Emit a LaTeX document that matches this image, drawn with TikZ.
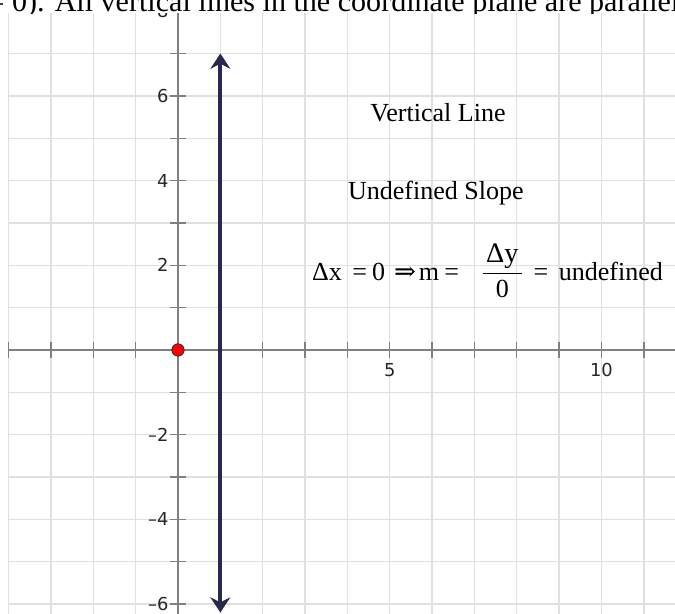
\documentclass[tikz,border=0pt]{standalone}
\usepackage{fontspec}
\setmainfont{Liberation Serif}
\newfontfamily\ticksfont{DejaVu Sans}
\newfontfamily\arrowfont{DejaVu Serif}
\usepackage{amsmath}
\usepackage{xcolor}
\definecolor{gridgray}{RGB}{224,224,224}
\definecolor{axisgray}{RGB}{128,128,128}
\definecolor{linenavy}{RGB}{40,40,78}
\usetikzlibrary{arrows.meta, positioning}

\begin{document}
\begin{tikzpicture}[
      gridline/.style={gridgray, line width=0.9pt},
      axisline/.style={axisgray, line width=1pt},
      tickmark/.style={axisgray, line width=0.9pt},
      ticklabel/.style={font=\ticksfont\fontsize{12}{14}\selectfont,
                        text=black!85, inner sep=0pt},
      vline/.style={linenavy, line width=2.7pt,
                    {Stealth[length=0.36cm, width=0.47cm, inset=0.12cm]}-{Stealth[length=0.36cm, width=0.47cm, inset=0.12cm]}},
      reddot/.style={circle, fill=red, draw=black!80, line width=0.6pt,
                     minimum size=0.29cm, inner sep=0pt},
      caption/.style={font=\fontsize{17.5}{21}\selectfont, inner sep=0pt}
    ]
    \useasboundingbox (-4.203,-6.234) rectangle (11.736,8.264);

    \draw[gridline] (-4,-6.234) grid (11.736,8.264);
    \draw[axisline] (-4,0) -- (11.736,0);
    \draw[axisline] (0,-6.234) -- (0,8.264);

    \foreach \x in {-4,...,-1,1,2,...,11}
      \draw[tickmark] (\x,-0.19) -- (\x,0.19);
    \foreach \y in {-6,...,-1,1,2,...,7}
      \draw[tickmark] (-0.19,\y) -- (0.19,\y);

    \foreach \x in {5,10}
      \node[ticklabel] (xlab\x) at (\x,-0.47) {\x};
    \foreach \y/\txt in {-6/–6,-4/–4,-2/–2,2/2,4/4,6/6,8/8}
      \node[ticklabel, anchor=east] (ylab\y) at (-0.22,\y) {\txt};

    \coordinate (linetop) at (1,7);
    \coordinate (linebot) at (1,-6.2);
    \draw[vline] (linebot) -- (linetop);

    \node[reddot] (origin) at (0,0) {};

    \node[caption] (vert) at (6.14,5.6) {Vertical Line};
    \node[caption] (undef) at (6.09,3.71) {Undefined Slope};
    \node[caption, anchor=west] (slopeeq) at (3.16,1.86)
      {Δx\hspace{7pt}=\hspace{3.5pt}0\hspace{6pt}{\arrowfont ⇒}\hspace{2pt}m\hspace{3.5pt}=\hspace{15pt}$\dfrac{\text{\hspace{2pt}\fontsize{19}{22}\selectfont Δy\hspace{2pt}}}{\text{0}}$\hspace{7pt}=\hspace{7pt}undefined};

    \begin{scope}
      \clip (-4.203,7.957) rectangle (11.736,8.264);
      \fill[white] (-4.203,7.957) rectangle (11.736,8.264);
      \node[anchor=base west, inner sep=0pt, font=\fontsize{20.2}{24}\selectfont]
        (pagetext) at (-4.50,8.004)
        {= 0). All vertical lines in the coordinate plane are parallel};
    \end{scope}
  \end{tikzpicture}
\end{document}
